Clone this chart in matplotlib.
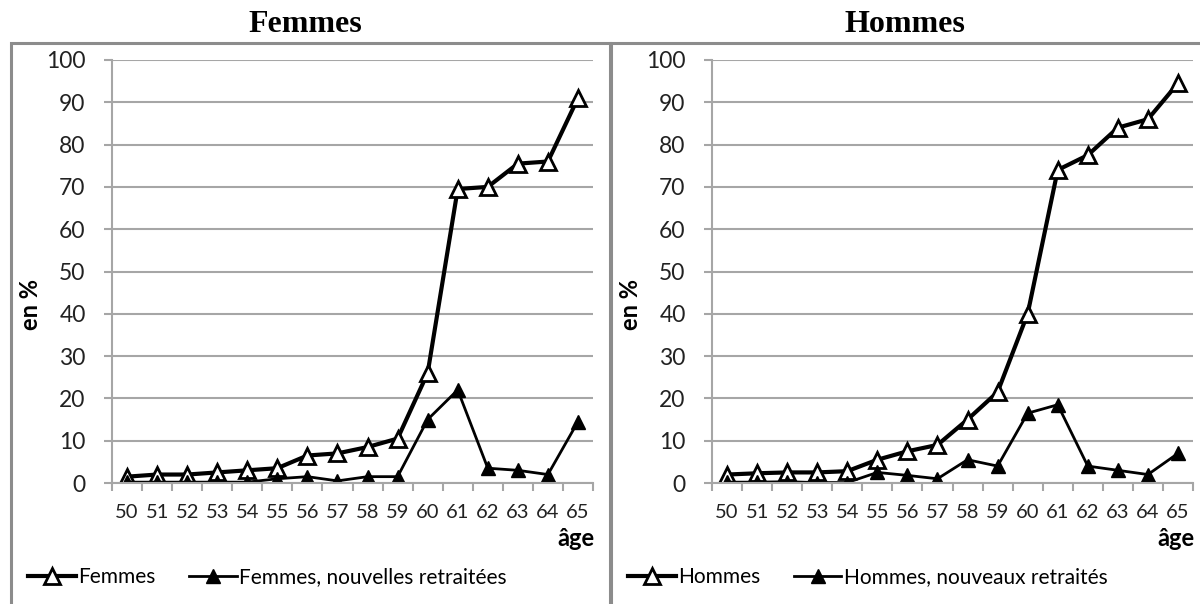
import matplotlib.pyplot as plt
import numpy as np
from matplotlib.patches import Rectangle

ages = [50, 51, 52, 53, 54, 55, 56, 57, 58, 59, 60, 61, 62, 63, 64, 65]

femmes = [1.5, 2, 2, 2.5, 3, 3.5, 6.5, 7, 8.5, 10.5, 26, 69.5, 70, 75.5, 76, 91]
femmes_nouv = [0.2, 0.2, 0.2, 0.2, 0.2, 1, 1.5, 0.5, 1.5, 1.5, 15, 22, 3.5, 3, 2, 14.5]

hommes = [2, 2.3, 2.5, 2.5, 2.8, 5.5, 7.5, 9, 15, 21.5, 40, 74, 77.5, 84, 86, 94.5]
hommes_nouv = [0.2, 0.2, 0.3, 0.1, 0.1, 2.5, 1.8, 1, 5.5, 4, 16.5, 18.5, 4, 3, 2, 7]

panels = [
    ('Femmes', femmes, femmes_nouv, 'Femmes', 'Femmes, nouvelles retraitées'),
    ('Hommes', hommes, hommes_nouv, 'Hommes', 'Hommes, nouveaux retraités'),
]

plt.rcParams['font.family'] = ['Lato', 'DejaVu Sans']

fig = plt.figure(figsize=(12, 6.04), dpi=100)
W, H = 1200, 604

grey = '#a6a6a6'
x = np.arange(len(ages))

for i, (title, main, nouv, lab1, lab2) in enumerate(panels):
    off = 600 * i
    # cadre du panneau
    fig.patches.append(Rectangle(((11 + off) / W, -0.01), 599 / W, (604 - 43) / H + 0.01,
                                 transform=fig.transFigure, fill=False,
                                 edgecolor='#8c8c8c', lw=2.2))
    fig.text((305 + off) / W, 1 - 24 / H, title, ha='center', va='center',
             family='Liberation Serif', weight='bold', fontsize=23)

    ax = fig.add_axes([(112 + off) / W, 1 - 483 / H, 481 / W, 423 / H])
    ax.plot(x, main, color='black', lw=3, marker='^', ms=12,
            markerfacecolor='white', markeredgecolor='black', mew=2, label=lab1)
    ax.plot(x, nouv, color='black', lw=2, marker='^', ms=10,
            markerfacecolor='black', markeredgecolor='black', label=lab2)

    ax.set_xlim(-0.5, len(ages) - 0.5)
    ax.set_ylim(0, 100)
    ax.set_yticks(np.arange(0, 101, 10))
    ax.yaxis.grid(True, color=grey, lw=1.5)
    ax.set_axisbelow(True)
    ax.set_xticks(x)
    ax.set_xticklabels([str(a) for a in ages])
    ax.set_xticks(np.arange(-0.5, len(ages), 1), minor=True)
    ax.tick_params(axis='x', which='major', length=0, pad=15, labelsize=14.5,
                   colors='#222222')
    ax.tick_params(axis='x', which='minor', length=6, color=grey, width=1.5)
    ax.tick_params(axis='y', length=6, color=grey, width=1.5, labelsize=16.5, pad=13,
                   labelcolor='#222222')
    for s in ['top', 'right']:
        ax.spines[s].set_visible(False)
    for s in ['left', 'bottom']:
        ax.spines[s].set_color(grey)
        ax.spines[s].set_linewidth(1.5)

    fig.text((31 + off) / W, 1 - 305 / H, 'en %', rotation=90, ha='center', va='center',
             weight='bold', fontsize=17)
    fig.text((594 + off) / W, 1 - 539 / H, 'âge', ha='right', va='center',
             weight='bold', fontsize=17)

    h, l = ax.get_legend_handles_labels()
    fig.legend(h, l, loc='center left', bbox_to_anchor=((28 + off) / W, 1 - 577 / H),
               ncol=2, frameon=False, fontsize=15, handlelength=2.3, handletextpad=0.1,
               columnspacing=1.6, borderaxespad=0, borderpad=0)

fig.savefig('out.png', dpi=100)
